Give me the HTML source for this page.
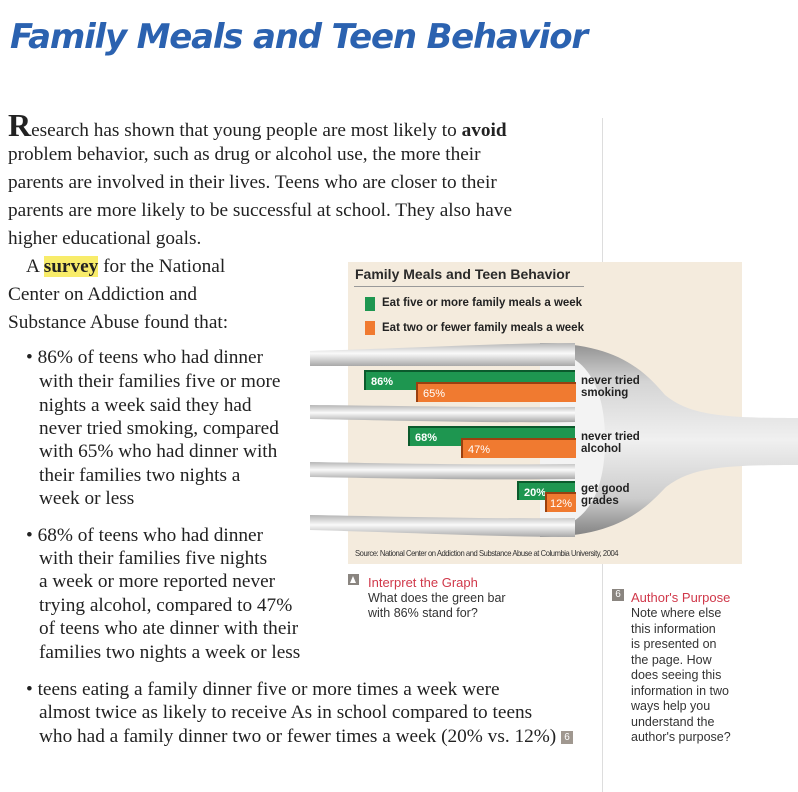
<!DOCTYPE html>
<html><head><meta charset="utf-8"><style>
body{margin:0;width:798px;height:792px;background:#fff;position:relative;overflow:hidden;font-family:"Liberation Serif",serif;color:#222}
.l{position:absolute;white-space:nowrap;font-size:19.3px;line-height:24px}
.s{position:absolute;white-space:nowrap;font-family:"Liberation Sans",sans-serif;font-size:12.5px;line-height:15.5px;color:#333}
.bar{position:absolute;height:20px;font-family:"Liberation Sans",sans-serif;font-size:11px;font-weight:bold;color:#fff;line-height:20px;padding-left:5px;box-sizing:border-box}
.g{background:#1e9650;border-top:2px solid #0b5a2c;border-left:2px solid #0b5a2c}
.o{background:#f07a30;border-top:2px solid #9a4010;border-left:2px solid #9a4010}
.cl{position:absolute;font-family:"Liberation Sans",sans-serif;font-weight:bold;font-size:11.5px;line-height:12px;color:#222}
</style></head><body>
<div style="position:absolute;left:10px;top:17px;font-family:'DejaVu Sans',sans-serif;font-style:italic;font-weight:bold;font-size:34px;color:#2b62b0;white-space:nowrap;letter-spacing:-1.2px">Family Meals and Teen Behavior</div>
<div style="position:absolute;left:602px;top:118px;width:1px;height:674px;background:#ddd"></div>

<div class="l" style="left:8px;top:113px"><span style="font-size:32px;font-weight:bold">R</span>esearch has shown that young people are most likely to <b>avoid</b></div>
<div class="l" style="left:8px;top:143px">problem behavior, such as drug or alcohol use, the more their</div>
<div class="l" style="left:8px;top:171px">parents are involved in their lives. Teens who are closer to their</div>
<div class="l" style="left:8px;top:199px">parents are more likely to be successful at school. They also have</div>
<div class="l" style="left:8px;top:227px">higher educational goals.</div>
<div class="l" style="left:26px;top:255px">A <b style="background:#f8ec6a">survey</b> for the National</div>
<div class="l" style="left:8px;top:283px">Center on Addiction and</div>
<div class="l" style="left:8px;top:311px">Substance Abuse found that:</div>

<div class="l" style="left:26px;top:346px">• 86% of teens who had dinner</div>
<div class="l" style="left:39px;top:370px">with their families five or more</div>
<div class="l" style="left:39px;top:394px">nights a week said they had</div>
<div class="l" style="left:39px;top:417px">never tried smoking, compared</div>
<div class="l" style="left:39px;top:440px">with 65% who had dinner with</div>
<div class="l" style="left:39px;top:464px">their families two nights a</div>
<div class="l" style="left:39px;top:487px">week or less</div>
<div class="l" style="left:26px;top:524px">• 68% of teens who had dinner</div>
<div class="l" style="left:39px;top:547px">with their families five nights</div>
<div class="l" style="left:39px;top:570px">a week or more reported never</div>
<div class="l" style="left:39px;top:594px">trying alcohol, compared to 47%</div>
<div class="l" style="left:39px;top:617px">of teens who ate dinner with their</div>
<div class="l" style="left:39px;top:641px">families two nights a week or less</div>
<div class="l" style="left:26px;top:678px">• teens eating a family dinner five or more times a week were</div>
<div class="l" style="left:39px;top:701px">almost twice as likely to receive As in school compared to teens</div>
<div class="l" style="left:39px;top:725px">who had a family dinner two or fewer times a week (20% vs. 12%) <span style="display:inline-block;width:12px;height:13px;background:#a09890;color:#fff;font-family:'Liberation Sans',sans-serif;font-size:10px;line-height:13px;text-align:center;vertical-align:2px">6</span></div>

<!-- chart panel -->
<div style="position:absolute;left:348px;top:262px;width:394px;height:302px;background:#f4ebdd"></div>
<div style="position:absolute;left:355px;top:266px;font-family:'Liberation Sans',sans-serif;font-weight:bold;font-size:14px;color:#2a2a2a;white-space:nowrap">Family Meals and Teen Behavior</div>
<div style="position:absolute;left:354px;top:286px;width:230px;height:1px;background:#999"></div>
<div style="position:absolute;left:365px;top:297px;width:10px;height:14px;background:#1e9650"></div>
<div style="position:absolute;left:382px;top:297px;font-family:'Liberation Sans',sans-serif;font-weight:bold;font-size:11.5px;color:#222;white-space:nowrap">Eat five or more family meals a week</div>
<div style="position:absolute;left:365px;top:321px;width:10px;height:14px;background:#f07a30"></div>
<div style="position:absolute;left:382px;top:322px;font-family:'Liberation Sans',sans-serif;font-weight:bold;font-size:11.5px;color:#222;white-space:nowrap">Eat two or fewer family meals a week</div>

<svg style="position:absolute;left:0;top:0" width="798" height="792">
<defs>
<linearGradient id="fg" x1="0" y1="0" x2="0" y2="1">
<stop offset="0" stop-color="#909090"/><stop offset="0.2" stop-color="#d4d4d4"/><stop offset="0.5" stop-color="#f0f0f0"/><stop offset="0.8" stop-color="#cccccc"/><stop offset="1" stop-color="#808080"/></linearGradient>
<linearGradient id="tg" x1="0" y1="0" x2="0" y2="1"><stop offset="0" stop-color="#b5b5b5"/><stop offset="0.45" stop-color="#fafafa"/><stop offset="1" stop-color="#a8a8a8"/></linearGradient>
</defs>
<path d="M540,343 C610,343 640,365 665,395 C690,415 720,418 798,418 L798,465 C720,465 690,468 665,488 C640,515 610,537 540,537 Z" fill="url(#fg)"/>
<path d="M540,350 C585,350 605,385 605,440 C605,495 585,530 540,530 Z" fill="#f3f3f3"/>
<path d="M310,351 C420,348 500,343 575,343 L575,366 C500,366 420,366 310,366 Z" fill="url(#tg)"/>
<path d="M310,405 C420,406 500,408 575,407 L575,422 C500,423 420,421 310,419 Z" fill="url(#tg)"/>
<path d="M310,462 C420,464 500,465 575,464 L575,479 C500,480 420,479 310,477 Z" fill="url(#tg)"/>
<path d="M310,515 C420,517 500,519 575,518 L575,537 C500,537 420,533 310,530 Z" fill="url(#tg)"/>
</svg>

<div class="bar g" style="left:364px;top:370px;width:211px">86%</div>
<div class="bar o" style="left:416px;top:382px;width:160px;font-weight:normal">65%</div>
<div class="cl" style="left:581px;top:375px">never tried<br>smoking</div>
<div class="bar g" style="left:408px;top:426px;width:167px">68%</div>
<div class="bar o" style="left:461px;top:438px;width:115px;font-weight:normal">47%</div>
<div class="cl" style="left:581px;top:431px">never tried<br>alcohol</div>
<div class="bar g" style="left:517px;top:481px;width:58px;height:19px">20%</div>
<div class="bar o" style="left:545px;top:492px;width:31px;font-weight:normal;padding-left:3px">12%</div>
<div class="cl" style="left:581px;top:483px">get good<br>grades</div>
<div style="position:absolute;left:355px;top:548px;font-family:'Liberation Sans',sans-serif;font-size:8.5px;color:#333;white-space:nowrap;letter-spacing:-0.5px;transform:scaleX(0.9);transform-origin:left">Source: National Center on Addiction and Substance Abuse at Columbia University, 2004</div>

<div style="position:absolute;left:348px;top:574px;width:11px;height:11px;background:#8a8580"></div>
<div style="position:absolute;left:350px;top:576px;width:0;height:0;border-left:3.5px solid transparent;border-right:3.5px solid transparent;border-bottom:7px solid #fff"></div>
<div class="s" style="left:368px;top:575px;color:#d0384a;font-size:13px">Interpret the Graph</div>
<div class="s" style="left:368px;top:591px">What does the green bar</div>
<div class="s" style="left:368px;top:606px">with 86% stand for?</div>

<div style="position:absolute;left:612px;top:589px;width:12px;height:12px;background:#8a8580;color:#fff;font-family:'Liberation Sans',sans-serif;font-size:10px;line-height:12px;text-align:center">6</div>
<div class="s" style="left:631px;top:590px;color:#d0384a;font-size:13px">Author's Purpose</div>
<div class="s" style="left:631px;top:606px">Note where else</div>
<div class="s" style="left:631px;top:622px">this information</div>
<div class="s" style="left:631px;top:637px">is presented on</div>
<div class="s" style="left:631px;top:653px">the page. How</div>
<div class="s" style="left:631px;top:668px">does seeing this</div>
<div class="s" style="left:631px;top:684px">information in two</div>
<div class="s" style="left:631px;top:699px">ways help you</div>
<div class="s" style="left:631px;top:715px">understand the</div>
<div class="s" style="left:631px;top:730px">author's purpose?</div>
</body></html>
